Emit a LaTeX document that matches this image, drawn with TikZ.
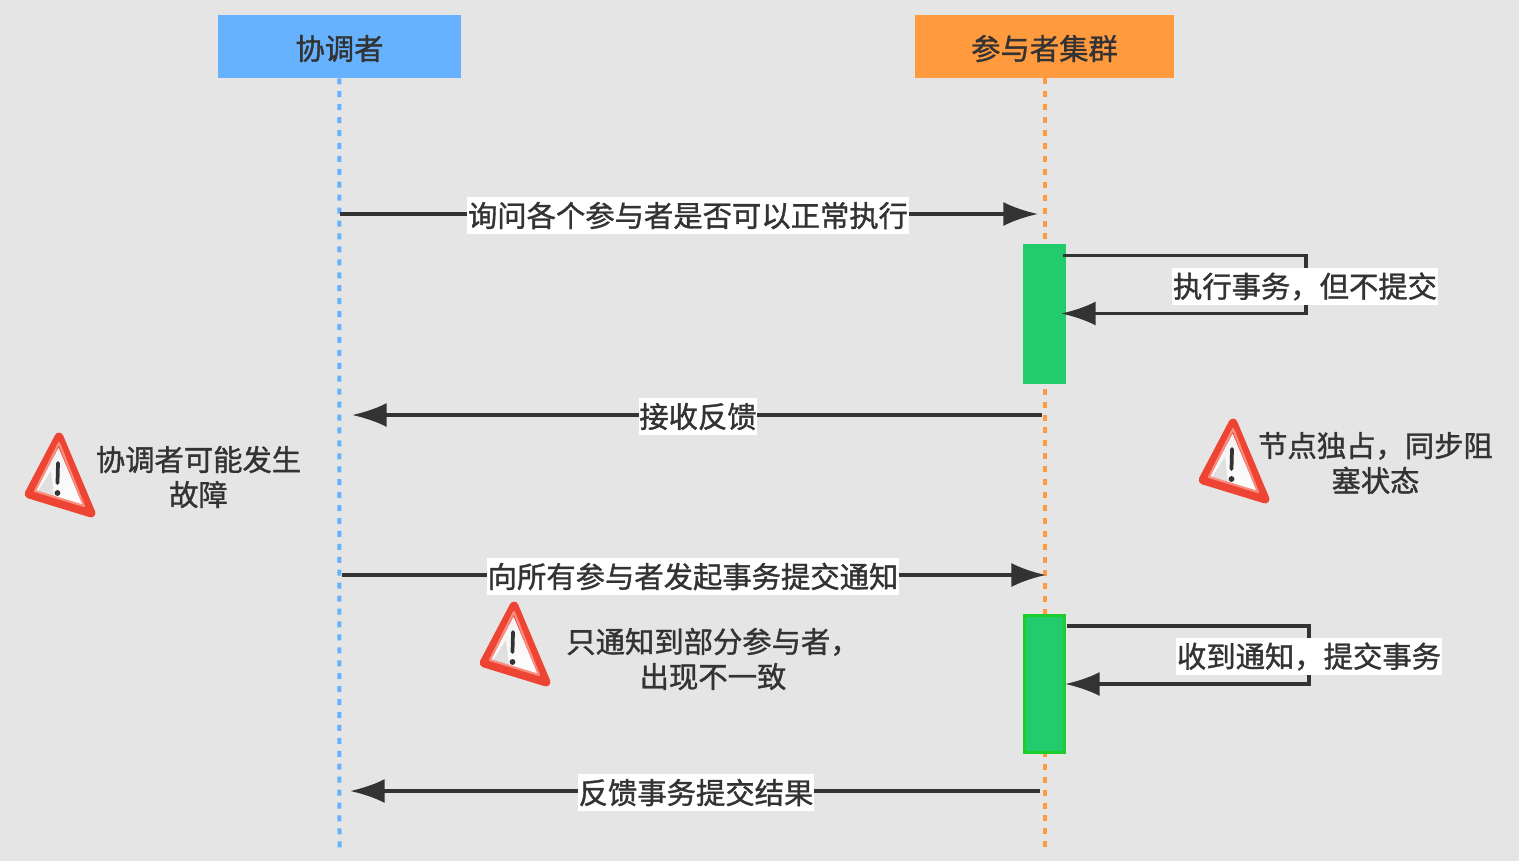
\documentclass[tikz,border=0pt]{standalone}
\usepackage{fontspec}
\setmainfont{Noto Sans CJK SC}[FakeBold=1.2]
\usetikzlibrary{arrows.meta}
\definecolor{pagebg}{HTML}{E5E5E5}
\definecolor{ink}{HTML}{333333}
\definecolor{coordblue}{HTML}{66B2FF}
\definecolor{partorange}{HTML}{FF9A3F}
\definecolor{busygreen}{HTML}{22CC6C}
\definecolor{busyedge}{HTML}{1ECC2C}
\definecolor{warnred}{HTML}{EE4433}
\definecolor{warnpale}{HTML}{F98E7E}
\tikzset{
  x=0.75pt, y=-0.75pt,
  head/.style={draw=none, minimum height=47.25pt, inner sep=0pt, text=ink, font=\fontsize{22}{26}\selectfont},
  headtext/.style={inner sep=0pt, text=ink, font=\fontsize{22}{26}\selectfont},
  lifeline/.style={line width=3pt, dash pattern=on 4.5pt off 5.2pt},
  msg/.style={draw=ink, line width=2.7pt, -{Latex[length=26pt,width=18pt]}},
  loopmsg/.style={msg, line join=miter},
  tag/.style={fill=white, inner xsep=0.5pt, inner ysep=0pt, minimum height=28pt, text=ink, font=\fontsize{22}{26}\selectfont},
  note/.style={align=center, inner sep=0pt, text=ink, font=\fontsize{22}{26.25}\selectfont},
  busy/.style={inner sep=0pt, fill=busygreen, minimum width=32.25pt},
  warning/.pic={
    \shade[top color=white!88!gray, bottom color=white, rounded corners=2pt] (35,5) -- (3,61) -- (67,80) -- cycle;
    \fill[black!30, opacity=.35] (27,40) -- (14,60) -- (30,65) -- cycle;
    \draw[warnred, line width=6.6pt, line join=round] (35,6) -- (5,63) -- (67,82) -- cycle;
    \draw[warnpale, line width=1.6pt, line join=round] (35,12) -- (11,60) -- (60,75) -- cycle;
    \draw[ink, line width=2.8pt, line cap=round] (34,32) -- (33.5,52);
    \fill[ink] (33.5,62) circle (2.2pt);
  },
}
\begin{document}
\begin{tikzpicture}
  \useasboundingbox[fill=pagebg] (0,0) rectangle (1519,861);

  % lane headers
  \node[head, fill=coordblue, minimum width=181.9pt] (coord) at (339.3,46.5) {};
  \node[head, fill=partorange, minimum width=194pt] (part) at (1044.5,46.5) {};
  \node[headtext] (coordName) at (339.5,48.5) {协调者};
  \node[headtext] (partName) at (1044.5,48.5) {参与者集群};

  % lifelines
  \coordinate (coordEnd) at (339.5,852);
  \coordinate (partEnd) at (1044.5,852);
  \draw[lifeline, coordblue] (coord.south) -- (coordEnd);
  \draw[lifeline, partorange] (part.south) -- (partEnd);

  % activation bars
  \node[busy, minimum height=104.6pt] (barA) at (1044.5,314) {};
  \node[busy, draw=busyedge, line width=2.25pt, minimum width=30pt, minimum height=102.5pt] (barB) at (1044.5,684) {};

  % anchor points of the messages
  \coordinate (a1) at (340,214);   \coordinate (a2) at (1038,214);
  \coordinate (b1) at (1063,255.5);  \coordinate (b2) at (1306,255.5);
  \coordinate (b3) at (1306,313.5);  \coordinate (b4) at (1061,313.5);
  \coordinate (c1) at (1042,415);  \coordinate (c2) at (352,415);
  \coordinate (d1) at (342,575);   \coordinate (d2) at (1046,575);
  \coordinate (e1) at (1067,626);  \coordinate (e2) at (1309,626);
  \coordinate (e3) at (1309,684);  \coordinate (e4) at (1065,684);
  \coordinate (f1) at (1040,791);  \coordinate (f2) at (350,791);

  % messages
  \draw[msg] (a1) -- (a2);
  \draw[loopmsg] (b1) -- (b2) -- (b3) -- (b4);
  \draw[msg] (c1) -- (c2);
  \draw[msg] (d1) -- (d2);
  \draw[loopmsg] (e1) -- (e2) -- (e3) -- (e4);
  \draw[msg] (f1) -- (f2);

  % message captions
  \node[tag] (ta) at (688,215.5) {询问各个参与者是否可以正常执行};
  \node[tag] (tb) at (1305,286.5) {执行事务，但不提交};
  \node[tag] (tc) at (698,416.5) {接收反馈};
  \node[tag] (td) at (693,576.5) {向所有参与者发起事务提交通知};
  \node[tag] (te) at (1309,656.5) {收到通知，提交事务};
  \node[tag] (tf) at (696,792.5) {反馈事务提交结果};

  % warnings
  \pic at (24,431) {warning};
  \pic at (1198,417) {warning};
  \pic at (479,600) {warning};
  \node[note] (n1) at (198.5,477) {协调者可能发生\\故障};
  \node[note] (n2) at (1375.5,463) {节点独占，同步阻\\塞状态};
  \node[note] (n3) at (713,659) {只通知到部分参与者，\\出现不一致};
\end{tikzpicture}
\end{document}
